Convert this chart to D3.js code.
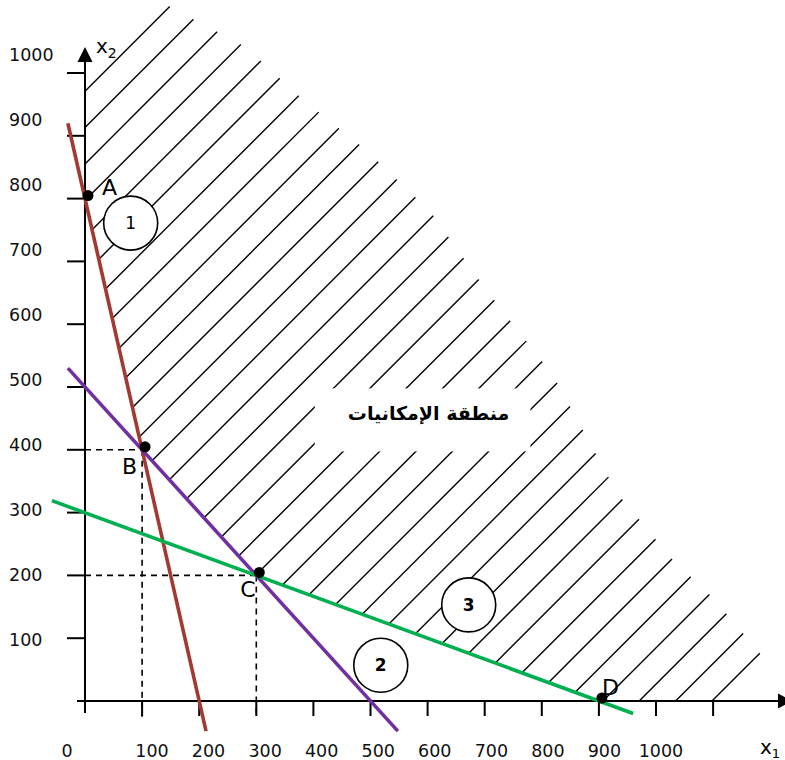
<!DOCTYPE html>
<html>
<head>
<meta charset="utf-8">
<script src="https://cdn.jsdelivr.net/npm/d3@7/dist/d3.min.js"></script>
<style>
  html, body { margin: 0; padding: 0; background: #fff; }
  svg { display: block; }
</style>
</head>
<body>
<svg id="chart" width="785" height="760"></svg>
<script>
// ---------------- data ----------------
const xTicks = [100, 200, 300, 400, 500, 600, 700, 800, 900, 1000, 1100];
const xTickLabels = [0, 100, 200, 300, 400, 500, 600, 700, 800, 900, 1000];
const yTicks = [100, 200, 300, 400, 500, 600, 700, 800, 900, 1000];
const yTickLabels = [100, 200, 300, 400, 500, 600, 700, 800, 900, 1000];

// constraint lines (drawn segment end points, data units)
const constraint1 = [[-30, 920], [212, -48]];   // 4x1 + x2 = 800
const constraint2 = [[-30, 530], [548, -48]];   // x1 + x2 = 500
const constraint3 = [[-58, 319], [960, -20]];   // x1 + 3x2 = 900

// corner points
const pointNames = ["A", "B", "C", "D"];
const pointX = [0, 100, 300, 900];
const pointY = [800, 400, 200, 0];

// constraint number badges
const badgeLabels = ["1", "2", "3"];
const badgeX = [80, 518, 672];
const badgeY = [761, 57, 153];

// feasible region: inner boundary and outer end of the hatching
const regionInner = [[0, 1150], [0, 800], [100, 400], [300, 200], [900, 0], [1250, 0]];
const hatchEdge = [[140, 1110], [282, 1041], [380, 959], [490, 879], [604, 780],
                   [704, 653], [820, 518], [932, 331], [1028, 226], [1100, 164], [1195, 62]];
const hatchCount = 35;

const regionLabel = "منطقة الإمكانيات";

// ---------------- scales ----------------
const svg = d3.select("#chart");
const x = d3.scaleLinear().domain([0, 1000]).range([85, 656]);
const y = d3.scaleLinear().domain([0, 1000]).range([701, 73]);
// tick labels in the source are placed on a slightly different spacing
const xLab = d3.scaleLinear().domain([100, 1000]).range([152, 661]);
const yLab = d3.scaleLinear().domain([100, 1000]).range([640, 55]);

const font = "'DejaVu Sans', Verdana, sans-serif";

// ---------------- hatching ----------------
const toPx = p => [x(p[0]), y(p[1])];
const inner = regionInner.map(toPx);
const outer = hatchEdge.map(toPx);
function crossAt(poly, c) {
  for (let i = 0; i < poly.length - 1; i++) {
    const a = poly[i], b = poly[i + 1];
    const ca = a[0] + a[1], cb = b[0] + b[1];
    if ((c - ca) * (c - cb) <= 0 && ca !== cb) {
      const t = (c - ca) / (cb - ca);
      return [a[0] + t * (b[0] - a[0]), a[1] + t * (b[1] - a[1])];
    }
  }
  return null;
}
const c0 = inner[0][0] + y(971), c1 = x(1098) + y(0);
const hatch = d3.range(hatchCount).map(i => {
  const c = c0 + (c1 - c0) * i / (hatchCount - 1);
  return [crossAt(inner, c), crossAt(outer, c)];
}).filter(d => d[0] && d[1]);

svg.append("g").selectAll("line").data(hatch).join("line")
  .attr("x1", d => d[0][0]).attr("y1", d => d[0][1])
  .attr("x2", d => d[1][0]).attr("y2", d => d[1][1])
  .attr("stroke", "#000").attr("stroke-width", 1.4);

// region label with white backing
const lbl = svg.append("text")
  .attr("x", x(600) + 1).attr("y", y(450) + 2)
  .attr("text-anchor", "middle")
  .attr("font-family", font).attr("font-weight", "bold").attr("font-size", 19)
  .attr("direction", "rtl")
  .text(regionLabel);
const bb = lbl.node().getBBox();
svg.insert("rect", "text")
  .attr("x", bb.x - 33).attr("y", bb.y - 14)
  .attr("width", bb.width + 54).attr("height", bb.height + 40)
  .attr("fill", "#fff");

// badges
const badges = svg.append("g").selectAll("g").data(badgeLabels).join("g")
  .attr("transform", (d, i) => `translate(${x(badgeX[i])},${y(badgeY[i])})`);
badges.append("circle").attr("r", 27).attr("fill", "#fff")
  .attr("stroke", "#000").attr("stroke-width", 1.6);
badges.append("text").attr("text-anchor", "middle").attr("dy", "0.36em")
  .attr("font-family", font).attr("font-size", 17)
  .attr("font-weight", (d, i) => i === 0 ? "normal" : "bold")
  .text(d => d);

// dashed guides
const guides = [
  [[0, 400], [100, 400]], [[100, 400], [100, -25]],
  [[0, 200], [300, 200]], [[300, 200], [300, -25]]
];
svg.append("g").selectAll("line").data(guides).join("line")
  .attr("x1", d => x(d[0][0])).attr("y1", d => y(d[0][1]))
  .attr("x2", d => x(d[1][0])).attr("y2", d => y(d[1][1]))
  .attr("stroke", "#000").attr("stroke-width", 1.6).attr("stroke-dasharray", "6,5");

// axes
const ax = svg.append("g").attr("stroke", "#000").attr("stroke-width", 2);
ax.append("line").attr("x1", x(0)).attr("x2", x(0)).attr("y1", y(0) + 12).attr("y2", 60);
ax.append("line").attr("x1", x(0) - 8).attr("x2", 780).attr("y1", y(0)).attr("y2", y(0));
svg.append("path").attr("d", `M${x(0)},47 L${x(0) - 7.5},62 L${x(0) + 7.5},62 Z`).attr("fill", "#000");
svg.append("path").attr("d", `M778,${y(0) - 7.5} L792,${y(0)} L778,${y(0) + 7.5} Z`).attr("fill", "#000");
ax.selectAll(".xt").data(xTicks).join("line")
  .attr("x1", d => x(d)).attr("x2", d => x(d)).attr("y1", y(0)).attr("y2", y(0) + 15);
ax.selectAll(".yt").data(yTicks).join("line")
  .attr("x1", x(0) - 18).attr("x2", x(0)).attr("y1", d => y(d)).attr("y2", d => y(d));

// tick labels
svg.append("g").selectAll("text").data(xTickLabels).join("text")
  .attr("x", d => d === 0 ? 67 : xLab(d)).attr("y", 757)
  .attr("text-anchor", "middle")
  .attr("font-family", font).attr("font-size", 17.5).attr("fill", "#111")
  .text(d => d);
svg.append("g").selectAll("text").data(yTickLabels).join("text")
  .attr("x", 9).attr("y", d => yLab(d)).attr("dy", "0.36em")
  .attr("font-family", font).attr("font-size", 17.5).attr("fill", "#111")
  .text(d => d);

// axis titles
const t2 = svg.append("text").attr("x", 96).attr("y", 53)
  .attr("font-family", font).attr("font-size", 20);
t2.append("tspan").text("x");
t2.append("tspan").attr("font-size", 14).attr("dy", 5).text("2");
const t1 = svg.append("text").attr("x", 760).attr("y", 754)
  .attr("font-family", font).attr("font-size", 20);
t1.append("tspan").text("x");
t1.append("tspan").attr("font-size", 13).attr("dy", 4).text("1");

// constraint lines
const lineGen = d3.line().x(d => x(d[0])).y(d => y(d[1]));
const cons = [
  { pts: constraint1, color: "#A13A32" },
  { pts: constraint2, color: "#7030A0" },
  { pts: constraint3, color: "#00B050" }
];
svg.append("g").selectAll("path").data(cons).join("path")
  .attr("d", d => lineGen(d.pts))
  .attr("fill", "none").attr("stroke", d => d.color).attr("stroke-width", 3.6);

// corner points
svg.append("g").selectAll("circle").data(pointNames).join("circle")
  .attr("cx", (d, i) => x(pointX[i]) + 3).attr("cy", (d, i) => y(pointY[i]) - 3)
  .attr("r", 5.5).attr("fill", "#000");
const labOff = [[17, -4], [-20, 24], [-16, 22], [3, -6]];
svg.append("g").selectAll("text").data(pointNames).join("text")
  .attr("x", (d, i) => x(pointX[i]) + labOff[i][0])
  .attr("y", (d, i) => y(pointY[i]) + labOff[i][1])
  .attr("font-family", font).attr("font-size", 22)
  .text(d => d);
</script>
</body>
</html>
